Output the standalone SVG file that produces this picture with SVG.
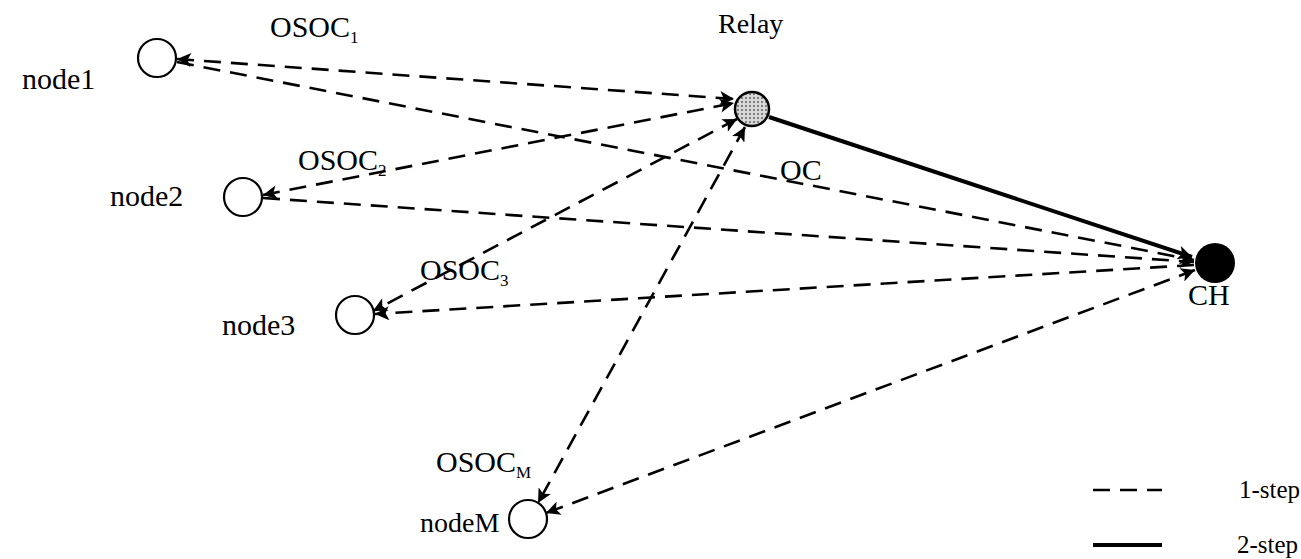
<svg xmlns="http://www.w3.org/2000/svg" width="1301" height="559" viewBox="0 0 1301 559">
  <style>
    text { font-family: "Liberation Serif", "Times New Roman", serif; font-size: 30px; fill: #000; }
    .sub { font-size: 17px; }
    .legend text { font-size: 25px; }
    .node { fill: #fff; stroke: #000; stroke-width: 2.2; }
    .dash { fill: none; stroke: #000; stroke-width: 2.6; stroke-dasharray: 17 10; }
    .solid { fill: none; stroke: #000; stroke-width: 4; }
  </style>
  <defs>
    <marker id="arrow" viewBox="0 0 10 10" refX="10" refY="5" markerWidth="17" markerHeight="14" markerUnits="userSpaceOnUse" orient="auto-start-reverse">
      <path d="M0,0 L10,5 L0,10 L2.5,5 Z" fill="#000"/>
    </marker>
    <pattern id="stipple" width="4" height="4" patternUnits="userSpaceOnUse">
      <rect width="4" height="4" fill="#d8d8d8"/>
      <circle cx="2" cy="2" r="0.9" fill="#555"/>
    </pattern>
  </defs>

  <rect width="1301" height="559" fill="#fff"/>

  <!-- connectors: dashed = 1-step, solid = 2-step -->
  <g id="connectors">
    <line class="dash" x1="177" y1="59" x2="734" y2="99" marker-start="url(#arrow)" marker-end="url(#arrow)"/>
    <line class="dash" x1="177" y1="62" x2="1194" y2="260" marker-end="url(#arrow)"/>
    <line class="dash" x1="263" y1="195" x2="734" y2="103" marker-start="url(#arrow)" marker-end="url(#arrow)"/>
    <line class="dash" x1="263" y1="198" x2="1194" y2="262" marker-end="url(#arrow)"/>
    <line class="dash" x1="737" y1="119" x2="373" y2="311" marker-start="url(#arrow)" marker-end="url(#arrow)"/>
    <line class="dash" x1="1194" y1="265" x2="375" y2="314" marker-end="url(#arrow)"/>
    <line class="dash" x1="745" y1="127" x2="538" y2="503" marker-start="url(#arrow)" marker-end="url(#arrow)"/>
    <line class="dash" x1="1195" y1="270" x2="546" y2="513" marker-start="url(#arrow)" marker-end="url(#arrow)"/>
    <line class="solid" x1="769" y1="117" x2="1192" y2="257" marker-end="url(#arrow)"/>
  </g>

  <!-- nodes -->
  <g id="node1">
    <circle class="node" cx="157" cy="58" r="19"/>
    <text x="22" y="89">node1</text>
    <text x="270" y="37">OSOC<tspan class="sub" dy="6">1</tspan></text>
  </g>
  <g id="node2">
    <circle class="node" cx="243" cy="197" r="19"/>
    <text x="110" y="206">node2</text>
    <text x="298" y="170">OSOC<tspan class="sub" dy="6">2</tspan></text>
  </g>
  <g id="node3">
    <circle class="node" cx="355" cy="315" r="19"/>
    <text x="222" y="335">node3</text>
    <text x="420" y="280">OSOC<tspan class="sub" dy="6">3</tspan></text>
  </g>
  <g id="nodeM">
    <circle class="node" cx="528" cy="519" r="19"/>
    <text x="420" y="532" style="font-size:28px">nodeM</text>
    <text x="436" y="472">OSOC<tspan class="sub" dy="6">M</tspan></text>
  </g>
  <g id="relay">
    <circle cx="752" cy="109" r="17" fill="url(#stipple)" stroke="#000" stroke-width="2.5"/>
    <text x="718" y="33" style="font-size:28px">Relay</text>
  </g>
  <g id="ch">
    <circle cx="1215" cy="263" r="20" fill="#000"/>
    <text x="1188" y="305">CH</text>
  </g>
  <text id="oc-label" x="780" y="180">OC</text>

  <!-- legend -->
  <g id="legend" class="legend">
    <line class="dash" x1="1093" y1="490" x2="1162" y2="490"/>
    <text x="1239" y="498">1-step</text>
    <line class="solid" x1="1093" y1="545" x2="1162" y2="545" stroke-width="3"/>
    <text x="1237" y="553">2-step</text>
  </g>
</svg>
